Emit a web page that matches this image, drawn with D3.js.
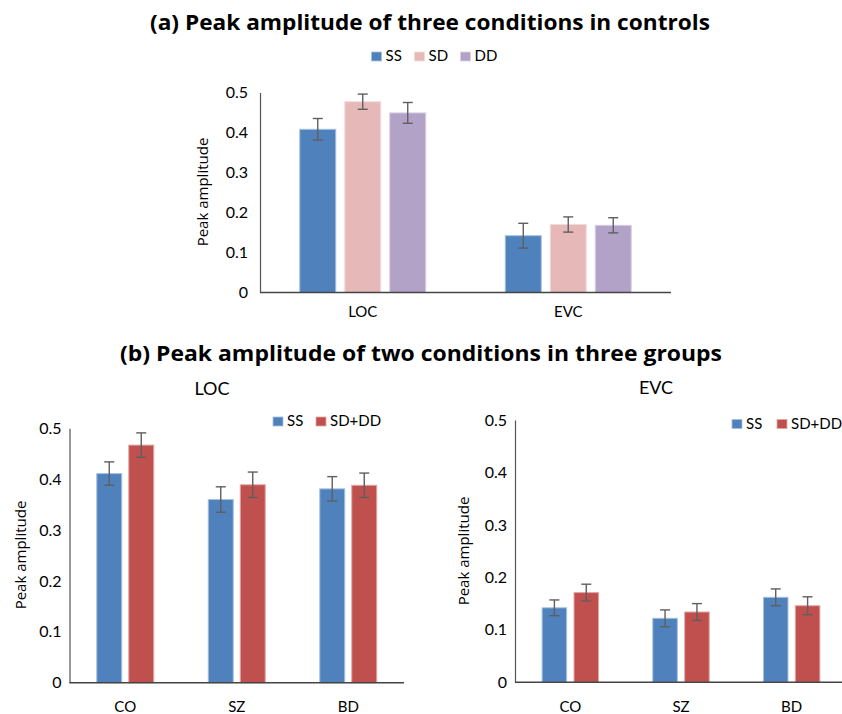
<!DOCTYPE html>
<meta charset="utf-8">
<title>Peak amplitude</title>
<script src="https://d3js.org/d3.v7.min.js"></script>
<style>
  body { margin: 0; background: white; }
  svg text { font-family: Lato, "Open Sans", sans-serif; fill: #000; }
  .title { font-family: "Open Sans", sans-serif !important; font-weight: bold; font-size: 21px; }
  .tick text { font-size: 16px; }
  .cat text { font-size: 15px; }
  .ylab { font-family: "Open Sans", sans-serif !important; font-size: 15px; }
</style>
<body>
<div id="chart"></div>
<script>
// ---- data ----
var yTicks = [0, 0.1, 0.2, 0.3, 0.4, 0.5];
var yTickLabels = ["0", "0.1", "0.2", "0.3", "0.4", "0.5"];

// (a) controls, three conditions
var regions = ["LOC", "EVC"];
var conditions = ["SS", "SD", "DD"];
var ctrlSS = [0.408, 0.142];
var ctrlSD = [0.477, 0.170];
var ctrlDD = [0.449, 0.168];
var ctrlErrSS = [0.027, 0.031];
var ctrlErrSD = [0.019, 0.019];
var ctrlErrDD = [0.026, 0.019];

// (b) three groups, two conditions
var groups = ["CO", "SZ", "BD"];
var pairs = ["SS", "SD+DD"];
var locSS = [0.411, 0.360, 0.381];
var locSDDD = [0.467, 0.389, 0.388];
var locErrSS = [0.023, 0.025, 0.024];
var locErrSDDD = [0.024, 0.025, 0.024];
var evcSS = [0.142, 0.122, 0.162];
var evcSDDD = [0.171, 0.134, 0.146];
var evcErrSS = [0.015, 0.016, 0.016];
var evcErrSDDD = [0.016, 0.016, 0.017];

var colors = {"SS": "#4f81bd", "SD": "#e6b9b8", "DD": "#b3a2c7", "SD+DD": "#c0504d"};
var edges = {"SS": "#a7c0de", "SD": "#f2dcdb", "DD": "#d9d0e3", "SD+DD": "#e0a7a6"};

var svg = d3.select("#chart").append("svg")
    .attr("width", 842)
    .attr("height", 714);

// draws one bar panel
function panel(opt) {
  var rows = opt.cats.map(function(c, i) {
    return {cat: c, vals: opt.series.map(function(s, j) {
      return {key: s, v: opt.means[j][i], e: opt.errs[j][i]};
    })};
  });

  var x0 = d3.scaleBand().domain(opt.cats).range(opt.xr)
      .paddingInner(opt.pad).paddingOuter(opt.pad / 2);
  var x1 = d3.scaleBand().domain(opt.series).range([0, x0.bandwidth()])
      .paddingInner(opt.innerPad);
  var y = d3.scaleLinear().domain([0, 0.5]).range(opt.yr);

  var g = svg.append("g");

  // y axis, no tick marks
  var ya = g.append("g")
      .attr("transform", "translate(" + opt.xr[0] + ",0)")
      .call(d3.axisLeft(y).tickValues(yTicks).tickSize(0).tickPadding(opt.tickPad)
        .tickFormat(function(d, i) { return yTickLabels[i]; }));
  ya.select(".domain").attr("stroke", "#555").attr("stroke-width", 1.2);
  ya.selectAll("text").attr("fill", "#000");
  ya.attr("font-family", null).attr("font-size", null);

  var grp = g.selectAll(".grp").data(rows).enter().append("g")
      .attr("transform", function(d) { return "translate(" + x0(d.cat) + ",0)"; });

  grp.selectAll("rect").data(function(d) { return d.vals; }).enter().append("rect")
      .attr("x", function(d) { return x1(d.key); })
      .attr("y", function(d) { return y(d.v); })
      .attr("width", x1.bandwidth())
      .attr("height", function(d) { return y(0) - y(d.v); })
      .attr("fill", function(d) { return colors[d.key]; })
      .attr("stroke", function(d) { return edges[d.key]; })
      .attr("stroke-width", 1);

  // error bars
  var eb = grp.selectAll(".err").data(function(d) { return d.vals; }).enter().append("g")
      .attr("stroke", "#5f5f5f").attr("stroke-width", 1.4);
  var cx = function(d) { return x1(d.key) + x1.bandwidth() / 2; };
  eb.append("line")
      .attr("x1", cx).attr("x2", cx)
      .attr("y1", function(d) { return y(d.v + d.e); })
      .attr("y2", function(d) { return y(d.v - d.e); });
  eb.append("line")
      .attr("x1", function(d) { return cx(d) - 5; }).attr("x2", function(d) { return cx(d) + 5; })
      .attr("y1", function(d) { return y(d.v + d.e); }).attr("y2", function(d) { return y(d.v + d.e); });
  eb.append("line")
      .attr("x1", function(d) { return cx(d) - 5; }).attr("x2", function(d) { return cx(d) + 5; })
      .attr("y1", function(d) { return y(d.v - d.e); }).attr("y2", function(d) { return y(d.v - d.e); });

  // x axis line and category labels
  g.append("line")
      .attr("x1", opt.xr[0]).attr("x2", opt.xr[1])
      .attr("y1", y(0)).attr("y2", y(0))
      .attr("stroke", "#444").attr("stroke-width", 1.6);
  g.append("g").attr("class", "cat").selectAll("text").data(opt.cats).enter().append("text")
      .attr("x", function(d) { return x0(d) + x0.bandwidth() / 2; })
      .attr("y", opt.catY)
      .attr("text-anchor", "middle")
      .text(function(d) { return d; });

  // y label
  g.append("text").attr("class", "ylab")
      .attr("transform", "translate(" + opt.ylab[0] + "," + opt.ylab[1] + ") rotate(-90)")
      .attr("text-anchor", "middle")
      .text("Peak amplitude");

  // legend
  var lg = g.append("g");
  opt.series.forEach(function(s, i) {
    lg.append("rect")
        .attr("x", opt.legX[i]).attr("y", opt.legY - 9)
        .attr("width", 10).attr("height", 9)
        .attr("fill", colors[s])
        .attr("stroke", edges[s]).attr("stroke-width", 0.8);
    lg.append("text")
        .attr("x", opt.legX[i] + 14).attr("y", opt.legY)
        .style("font-size", "15px")
        .text(s);
  });
}

// titles
svg.append("text").attr("class", "title")
    .attr("x", 150).attr("y", 30)
    .attr("textLength", 560).attr("lengthAdjust", "spacingAndGlyphs")
    .text("(a) Peak amplitude of three conditions in controls");
svg.append("text").attr("class", "title")
    .attr("x", 120).attr("y", 361)
    .attr("textLength", 602).attr("lengthAdjust", "spacingAndGlyphs")
    .text("(b) Peak amplitude of two conditions in three groups");
svg.append("text")
    .attr("x", 212).attr("y", 395).attr("text-anchor", "middle")
    .style("font-size", "18px").text("LOC");
svg.append("text")
    .attr("x", 656).attr("y", 394).attr("text-anchor", "middle")
    .style("font-size", "18px").text("EVC");

panel({
  cats: regions, series: conditions,
  means: [ctrlSS, ctrlSD, ctrlDD], errs: [ctrlErrSS, ctrlErrSD, ctrlErrDD],
  xr: [260, 671], yr: [292.5, 92.5], pad: 0.387, innerPad: 0.2,
  tickPad: 12, catY: 317, ylab: [208, 192],
  legX: [371.5, 414.5, 460.5], legY: 61
});

panel({
  cats: groups, series: pairs,
  means: [locSS, locSDDD], errs: [locErrSS, locErrSDDD],
  xr: [69.5, 404], yr: [682.7, 428.3], pad: 0.489, innerPad: 0.219,
  tickPad: 8, catY: 712, ylab: [26, 555],
  legX: [273, 316], legY: 426
});

panel({
  cats: groups, series: pairs,
  means: [evcSS, evcSDDD], errs: [evcErrSS, evcErrSDDD],
  xr: [515, 847], yr: [682.3, 420], pad: 0.49, innerPad: 0.23,
  tickPad: 8, catY: 712, ylab: [469, 551],
  legX: [732, 777], legY: 428.5
});
</script>
</body>
